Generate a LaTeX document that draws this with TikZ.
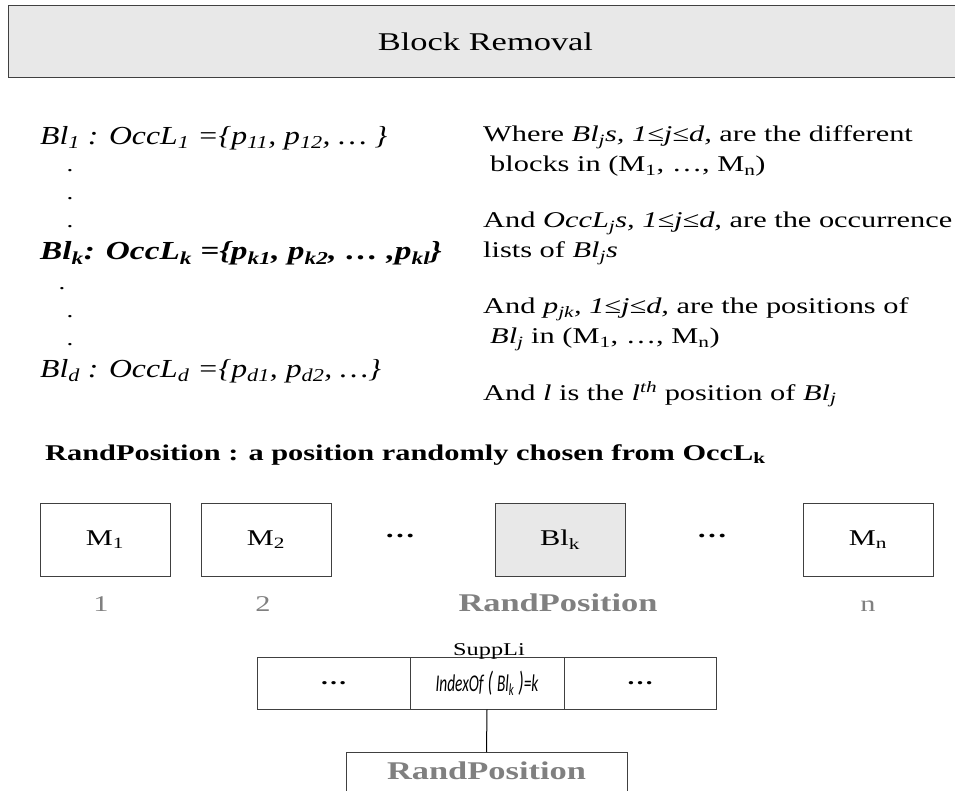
\documentclass[tikz,border=0pt]{standalone}
\usepackage{fontspec}
\setmainfont[FakeStretch=1.35]{Liberation Serif}
\newfontfamily\listfont[FakeStretch=1.22]{Liberation Serif}
\newfontfamily\boldlistfont[FakeStretch=1.28]{Liberation Serif}
\newfontfamily\eqfont[FakeStretch=0.64]{Carlito}
\newcommand{\sbs}[1]{\textsubscript{#1}}
\definecolor{panelgray}{HTML}{E8E8E8}
\definecolor{labelgray}{HTML}{808080}
\definecolor{framegray}{HTML}{404040}
\begin{document}
\begin{tikzpicture}[x=1pt,y=-1pt,
  listline/.style={anchor=base west,inner sep=0pt,font=\listfont\fontsize{26}{30}\selectfont\itshape},
  noteline/.style={anchor=base west,inner sep=0pt,font=\fontsize{22.5}{26}\selectfont},
  vdot/.style={anchor=base,inner sep=0pt,font=\fontsize{20}{24}\selectfont},
  cell/.style={draw=framegray,line width=1pt,minimum width=130pt,minimum height=73pt,inner sep=0pt,font=\fontsize{22.5}{26}\selectfont},
  poslabel/.style={anchor=base,inner sep=0pt,text=labelgray,font=\fontsize{22.5}{26}\selectfont},
  tablecell/.style={draw=framegray,line width=1pt,minimum height=52pt,inner sep=0pt}]
\useasboundingbox (0,0) rectangle (955,791);

% heading panel
\node (title) [draw=framegray,line width=1pt,fill=panelgray,anchor=north west,
  minimum width=954pt,minimum height=72pt,inner sep=0pt,
  font=\fontsize{25.5}{30}\selectfont] at (8,5) {Block Removal};

% occurrence lists
\node (l1) [listline] at (40,145) {Bl\sbs{1} : OccL\sbs{1} =\{p\sbs{11}, p\sbs{12}, \dots\ \}};
\node (d1) [vdot] at (70,172) {.};
\node (d2) [vdot] at (70,200) {.};
\node (d3) [vdot] at (70,228) {.};
\node (lk) [listline,font=\boldlistfont\fontsize{26}{30}\selectfont\bfseries\itshape] at (40,260)
  {Bl\sbs{k}: OccL\sbs{k} =\{p\sbs{k1}, p\sbs{k2}, \dots\ ,p\sbs{kl}\}};
\node (d4) [vdot] at (62,290) {.};
\node (d5) [vdot] at (70,318) {.};
\node (d6) [vdot] at (70,345) {.};
\node (ld) [listline] at (40,377) {Bl\sbs{d} : OccL\sbs{d} =\{p\sbs{d1}, p\sbs{d2}, \dots\}};

% explanations
\node (n1) [noteline] at (483,142) {Where \textit{Bl\sbs{j}s, 1≤j≤d,} are the different};
\node (n2) [noteline] at (490,172) {blocks in (M\sbs{1}, \dots, M\sbs{n})};
\node (n3) [noteline] at (483,228) {And \textit{OccL\sbs{j}s, 1≤j≤d,} are the occurrence};
\node (n4) [noteline] at (483,258) {lists of \textit{Bl\sbs{j}s}};
\node (n5) [noteline] at (483,314) {And \textit{p\sbs{jk}, 1≤j≤d,} are the positions of};
\node (n6) [noteline] at (490,344) {\textit{Bl\sbs{j}} in (M\sbs{1}, \dots, M\sbs{n})};
\node (n7) [noteline] at (483,400) {And \textit{l} is the \textit{l}\textsuperscript{\textit{th}} position of \textit{Bl\sbs{j}}};

% definition of the random position
\node (rp) [anchor=base west,inner sep=0pt,font=\fontsize{22.5}{26}\selectfont\bfseries] at (45,460)
  {RandPosition : a position randomly chosen from OccL\sbs{k}};

% sequence of blocks
\node (m1) [cell] at (105,539.5) {M\sbs{1}};
\node (m2) [cell] at (266,539.5) {M\sbs{2}};
\node (e1) [inner sep=0pt,font=\fontsize{22.5}{26}\selectfont\bfseries] at (400,536) {\dots};
\node (blk) [cell,fill=panelgray] at (560,539.5) {Bl\sbs{k}};
\node (e2) [inner sep=0pt,font=\fontsize{22.5}{26}\selectfont\bfseries] at (712,536) {\dots};
\node (mn) [cell] at (868,539.5) {M\sbs{n}};

\node (p1) [poslabel] at (101,611) {1};
\node (p2) [poslabel] at (263,611) {2};
\node (pk) [poslabel,font=\fontsize{25.5}{30}\selectfont\bfseries] at (558,611) {RandPosition};
\node (pn) [poslabel] at (868,611) {n};

% SuppLi table
\node (s1) [tablecell,minimum width=153pt] at (333.5,683) {\fontsize{20}{24}\selectfont\bfseries\dots};
\node (s2) [tablecell,minimum width=154pt] at (487,683)
  {\eqfont\itshape\fontsize{24}{28}\selectfont IndexOf\,{\fontsize{28}{30}\selectfont(}\,Bl\sbs{k}\,{\fontsize{28}{30}\selectfont)}=k};
\node (s3) [tablecell,minimum width=152pt] at (640,683) {\fontsize{20}{24}\selectfont\bfseries\dots};
\node (sl) [anchor=base,inner sep=0pt,font=\fontsize{18}{22}\selectfont] at (489,655) {SuppLi};

% selected position
\node (rpbox) [draw=framegray,line width=1pt,anchor=north,minimum width=281pt,minimum height=60pt,
  inner sep=0pt] at (486.5,752) {};
\node (rptext) [anchor=base,inner sep=0pt,text=labelgray,font=\fontsize{25.5}{30}\selectfont\bfseries]
  at (486.5,779) {RandPosition};
\draw[black,line width=1pt] (s2.south) -- (rpbox.north);
\end{tikzpicture}
\end{document}
